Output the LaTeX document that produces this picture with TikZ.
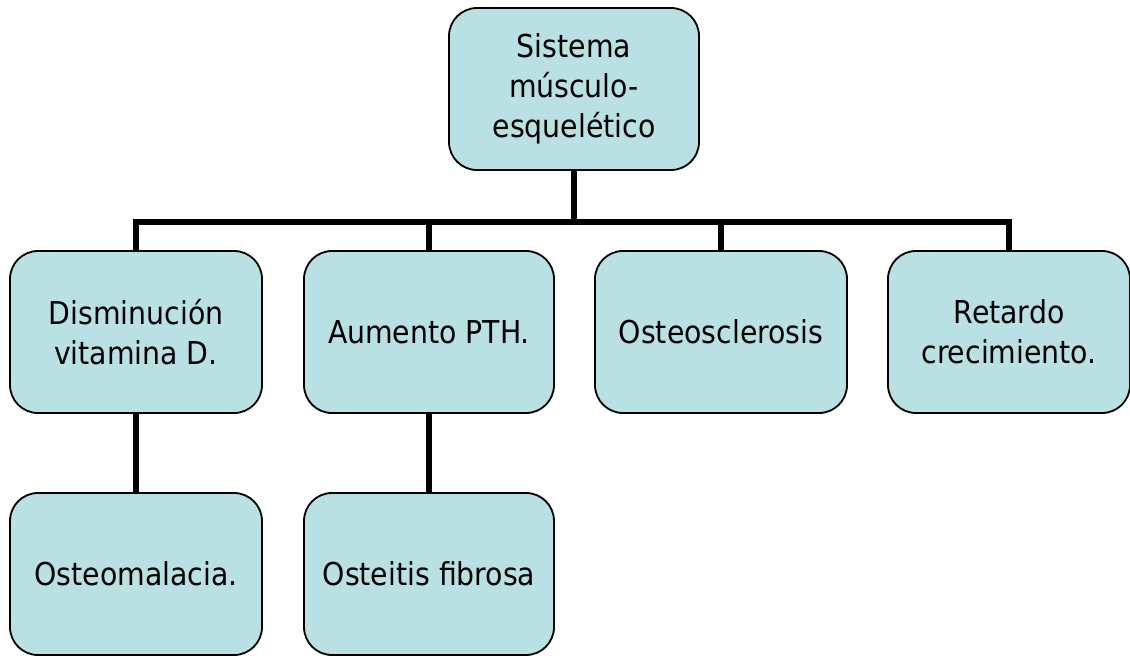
\documentclass[tikz,border=0pt]{standalone}
\usepackage{fontspec}
\setmainfont{DejaVu Sans Condensed}
\definecolor{boxfill}{HTML}{B9E0E3}
\begin{document}
\begin{tikzpicture}[x=1pt,y=-1pt,
  box/.style={draw=black,line width=1.8pt,fill=boxfill,rounded corners=28pt,
    inner sep=0pt,align=center,font=\fontsize{31.5}{40}\selectfont},
  link/.style={draw=black,line width=6.5pt}]
\useasboundingbox (0,0) rectangle (1130,656);
\node[box,minimum width=250pt,minimum height=162pt] (root) at (574,89) {Sistema\\músculo-\\esquelético};
\node[box,minimum width=252pt,minimum height=162pt] (b1) at (136,332) {Disminución\\vitamina D.};
\node[box,minimum width=250pt,minimum height=162pt] (b2) at (429,332) {Aumento PTH.};
\node[box,minimum width=252pt,minimum height=162pt] (b3) at (721,332) {Osteosclerosis};
\node[box,minimum width=242pt,minimum height=162pt] (b4) at (1009,332) {Retardo\\crecimiento.};
\node[box,minimum width=252pt,minimum height=162pt] (b5) at (136,574) {Osteomalacia.};
\node[box,minimum width=250pt,minimum height=162pt] (b6) at (429,574) {Osteitis fibrosa};
\coordinate (bus) at (574,222);
\draw[link] (root.south) -- (bus);
\draw[link] (b1.north) |- (bus) -| (b4.north);
\draw[link] (bus -| b2.north) -- (b2.north);
\draw[link] (bus -| b3.north) -- (b3.north);
\draw[link] (b1.south) -- (b5.north);
\draw[link] (b2.south) -- (b6.north);
\end{tikzpicture}
\end{document}
